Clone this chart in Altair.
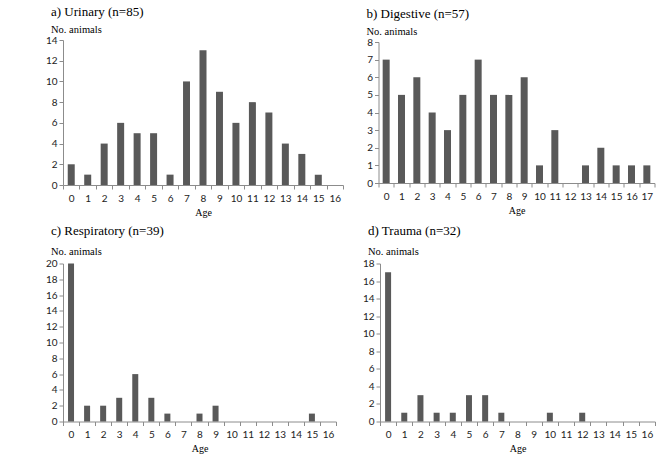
import altair as alt
import pandas as pd

# ---- data ----
urinary_age = list(range(0, 17))
urinary_n = [2, 1, 4, 6, 5, 5, 1, 10, 13, 9, 6, 8, 7, 4, 3, 1, 0]

digestive_age = list(range(0, 18))
digestive_n = [7, 5, 6, 4, 3, 5, 7, 5, 5, 6, 1, 3, 0, 1, 2, 1, 1, 1]

respiratory_age = list(range(0, 17))
respiratory_n = [20, 2, 2, 3, 6, 3, 1, 0, 1, 2, 0, 0, 0, 0, 0, 1, 0]

trauma_age = list(range(0, 17))
trauma_n = [17, 1, 3, 1, 1, 3, 3, 1, 0, 0, 1, 0, 1, 0, 0, 0, 0]

titles = ["a) Urinary (n=85)", "b) Digestive (n=57)",
          "c) Respiratory (n=39)", "d) Trauma (n=32)"]

BAR = "#595959"
AX = "#8c8c8c"
SERIF = "Liberation Serif"
SANS = "Lato"
EXT = 18


def panel(title, ages, counts, ymax, ystep, w, h, bw, top=0, offset=-1, subpad=7):
    df = pd.DataFrame({"Age": ages, "n": counts})
    t = alt.Title(
        title, subtitle="No. animals", anchor="start", frame="group",
        dx=-12, font=SERIF, fontSize=13, fontWeight="normal", color="black",
        subtitleFont=SERIF, subtitleFontSize=10.5, subtitleColor="black",
        subtitlePadding=subpad, offset=offset,
    )
    return (
        alt.Chart(df, title=t)
        .mark_bar(color=BAR, size=bw)
        .encode(
            x=alt.X(
                "Age:O", sort=ages,
                scale=alt.Scale(paddingInner=0, paddingOuter=0),
                axis=alt.Axis(
                    labelAngle=0, tickBand="extent", title="Age",
                    titleFont=SERIF, titleFontSize=10, titleFontWeight="normal",
                    titleColor="black", titlePadding=4,
                    labelFont=SANS, labelFontSize=10, labelColor="#222222",
                    labelPadding=4, domainColor=AX, tickColor=AX, tickSize=4,
                ),
            ),
            y=alt.Y(
                "n:Q",
                scale=alt.Scale(domain=[0, ymax], nice=False, range=[h, top]),
                axis=alt.Axis(
                    title=None, values=list(range(0, ymax + 1, ystep)),
                    grid=False, labelFont=SANS, labelFontSize=10,
                    labelColor="#222222", labelPadding=2,
                    domainColor=AX, tickColor=AX, tickSize=4,
                    minExtent=EXT, maxExtent=EXT,
                ),
            ),
        )
        .properties(width=w, height=h)
    )


a = panel(titles[0], urinary_age, urinary_n, 14, 2, 280, 145, 7, offset=0, subpad=6)
b = panel(titles[1], digestive_age, digestive_n, 8, 1, 276, 143, 7, top=2, offset=0, subpad=6)
c = panel(titles[2], respiratory_age, respiratory_n, 20, 2, 273, 158, 6, offset=1.5, subpad=9)
d = panel(titles[3], trauma_age, trauma_n, 18, 2, 275, 158, 6, offset=1.5, subpad=9)

row1 = alt.hconcat(a, b, spacing=34.5 - EXT)
row2 = alt.hconcat(c, d, spacing=43 - EXT)

chart = (
    alt.vconcat(row1, row2, spacing=7.5)
    .properties(padding={"left": 45, "top": 5, "right": 0, "bottom": 0},
                background="white")
    .configure_view(stroke=None)
)

chart.save("out.html", embed_options={"renderer": "svg", "actions": False})
